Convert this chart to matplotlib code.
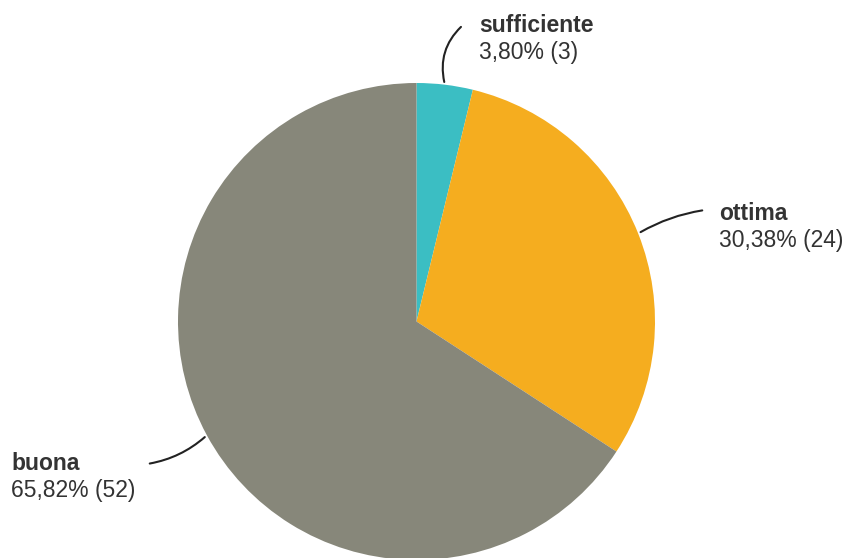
import numpy as np
import matplotlib.pyplot as plt

# data
labels = ['sufficiente', 'ottima', 'buona']
counts = [3, 24, 52]
percents = ['3,80%', '30,38%', '65,82%']
colors = ['#3bbec3', '#f5ad1f', '#87877a']

# layout (pixels)
W, H = 847, 558
cx, cy, r = 416.5, H - 321.5, 238.5
text_pos = [(479, 26), (719, 214), (11, 464)]
curve = [0.3, 0.1, 0.15]

fig = plt.figure(figsize=(W / 100, H / 100), dpi=100)
ax = fig.add_axes([0, 0, 1, 1])
wedges, _ = ax.pie(counts, colors=colors, startangle=90, counterclock=False,
                   center=(cx, cy), radius=r, wedgeprops=dict(linewidth=0))
ax.set_xlim(0, W)
ax.set_ylim(0, H)
ax.set_aspect('equal')
ax.axis('off')

for w, lab, n, p, (tx, ty), rad in zip(wedges, labels, counts, percents, text_pos, curve):
    ang = np.deg2rad((w.theta1 + w.theta2) / 2)
    x0 = cx + r * np.cos(ang)
    y0 = cy + r * np.sin(ang)
    if lab == 'sufficiente':
        x1, y1 = tx - 16, H - ty + 1
    elif tx > cx:
        x1, y1 = tx - 14, H - ty + 4
    else:
        x1, y1 = tx + 136, H - ty
    ax.annotate('', xy=(x0, y0), xytext=(x1, y1),
                arrowprops=dict(arrowstyle='-', color='#222222', lw=1.5,
                                connectionstyle='arc3,rad=%s' % rad))
    ax.text(tx, H - ty, lab, fontsize=16.5, fontweight='bold', color='#333333',
            family='Liberation Sans', va='center', ha='left')
    ax.text(tx, H - ty - 27, '%s (%d)' % (p, n), fontsize=16.5, color='#333333',
            family='Liberation Sans', va='center', ha='left')

fig.savefig('out.png', dpi=100)
